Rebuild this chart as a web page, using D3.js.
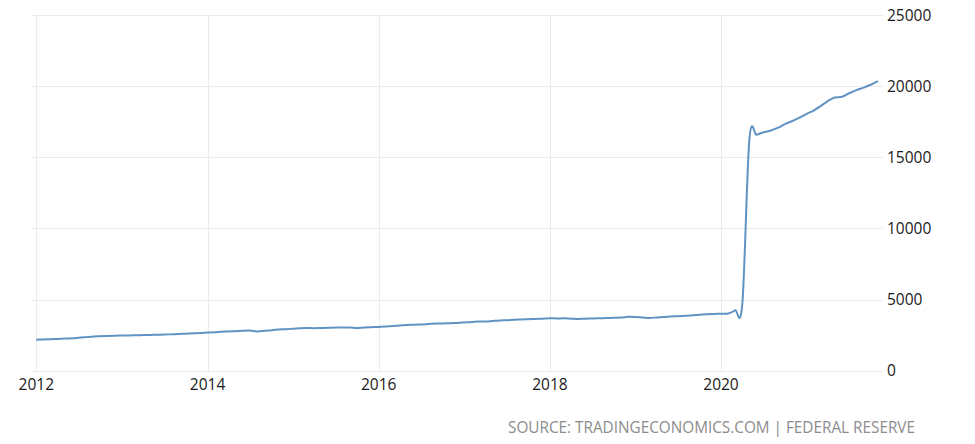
<!DOCTYPE html>
<html>
<head>
<meta charset="utf-8">
<script src="https://cdn.jsdelivr.net/npm/d3@7"></script>
<style>
  html, body { margin: 0; padding: 0; background: #ffffff; }
  svg { display: block; }
</style>
</head>
<body>
<svg id="chart" width="975" height="444"></svg>
<script>
// Monthly values (one small array per year), first month Jan 2012
const m1_2012 = [2180, 2195, 2215, 2235, 2255, 2280, 2320, 2360, 2400, 2420, 2445, 2460];
const m1_2013 = [2470, 2480, 2490, 2505, 2515, 2525, 2540, 2560, 2580, 2600, 2625, 2650];
const m1_2014 = [2680, 2710, 2735, 2760, 2780, 2810, 2820, 2760, 2800, 2850, 2890, 2920];
const m1_2015 = [2950, 2985, 2995, 2990, 3000, 3010, 3030, 3040, 3030, 3005, 3040, 3060];
const m1_2016 = [3080, 3110, 3140, 3175, 3210, 3230, 3255, 3280, 3310, 3320, 3340, 3360];
const m1_2017 = [3390, 3420, 3460, 3450, 3490, 3530, 3545, 3580, 3600, 3620, 3640, 3660];
const m1_2018 = [3690, 3670, 3680, 3660, 3640, 3660, 3675, 3690, 3700, 3720, 3740, 3790];
const m1_2019 = [3780, 3740, 3710, 3740, 3780, 3810, 3830, 3860, 3890, 3940, 3970, 3990];
const m1_2020 = [4000, 4020, 4250, 4700, 16230, 16580, 16760, 16880, 17080, 17350, 17550, 17780];
const m1_2021 = [18050, 18300, 18600, 18950, 19200, 19250, 19500, 19720, 19900, 20100, 20350];

const yearlySeries = [
  [2012, m1_2012], [2013, m1_2013], [2014, m1_2014], [2015, m1_2015], [2016, m1_2016],
  [2017, m1_2017], [2018, m1_2018], [2019, m1_2019], [2020, m1_2020], [2021, m1_2021]
];

const xTickYears = [2012, 2014, 2016, 2018, 2020];
const yTickValues = [0, 5000, 10000, 15000, 20000, 25000];
const sourceText = "SOURCE: TRADINGECONOMICS.COM | FEDERAL RESERVE";

// Build table
const data = [];
yearlySeries.forEach(([yr, arr]) => arr.forEach((v, m) => data.push({ date: new Date(yr, m, 1), value: v })));

const svg = d3.select("#chart");
const FONT = "'Open Sans', 'Segoe UI', sans-serif";

const x = d3.scaleTime()
  .domain([new Date(2012, 0, 1), new Date(2020, 0, 1)])
  .range([36.3, 721]);
const y = d3.scaleLinear()
  .domain([0, 25000])
  .range([370.7, 15]);

const gridLeft = 32, gridRight = 883;

// Horizontal grid
svg.append("g").selectAll("line").data(yTickValues).join("line")
  .attr("x1", gridLeft).attr("x2", gridRight)
  .attr("y1", d => Math.round(y(d)) + 0.5).attr("y2", d => Math.round(y(d)) + 0.5)
  .attr("stroke", "#ebebeb").attr("stroke-width", 1);

// Vertical grid
svg.append("g").selectAll("line").data(xTickYears).join("line")
  .attr("x1", d => Math.round(x(new Date(d, 0, 1))) + 0.5)
  .attr("x2", d => Math.round(x(new Date(d, 0, 1))) + 0.5)
  .attr("y1", y(25000)).attr("y2", y(0))
  .attr("stroke", "#ebebeb").attr("stroke-width", 1);

// X labels
svg.append("g").selectAll("text").data(xTickYears).join("text")
  .attr("x", d => x(new Date(d, 0, 1)))
  .attr("y", 390)
  .attr("text-anchor", "middle")
  .attr("font-family", FONT).attr("font-size", "15.5px").attr("fill", "#1a1a1a")
  .text(d => d);

// Y labels (right side)
svg.append("g").selectAll("text").data(yTickValues).join("text")
  .attr("x", 887)
  .attr("y", d => y(d))
  .attr("dy", "0.36em")
  .attr("text-anchor", "start")
  .attr("font-family", FONT).attr("font-size", "15.5px").attr("fill", "#1a1a1a")
  .text(d => d);

// Line
const line = d3.line()
  .x(d => x(d.date))
  .y(d => y(d.value))
  .curve(d3.curveCardinal.tension(0));

svg.append("path")
  .datum(data)
  .attr("fill", "none")
  .attr("stroke", "#6093c3")
  .attr("stroke-width", 2)
  .attr("stroke-linejoin", "round")
  .attr("d", line);

// Source
svg.append("text")
  .attr("x", 508).attr("y", 433.3)
  .attr("text-anchor", "start")
  .attr("font-family", FONT).attr("font-size", "16px").attr("fill", "#8c8c8c")
  .attr("textLength", 407).attr("lengthAdjust", "spacingAndGlyphs")
  .text(sourceText);
</script>
</body>
</html>
